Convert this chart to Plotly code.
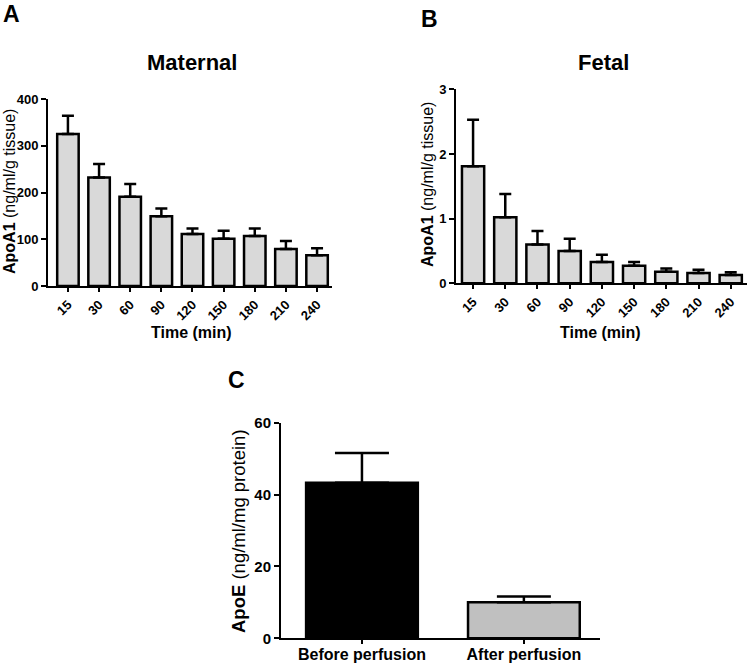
import plotly.graph_objects as go

W, H = 747, 665

time_labels = ["15", "30", "60", "90", "120", "150", "180", "210", "240"]
maternal_mean = [325, 232, 191, 149, 111, 101, 107, 79, 66]
maternal_sem = [39, 29, 27, 17, 12, 17, 16, 17, 15]
fetal_mean = [1.81, 1.02, 0.60, 0.50, 0.33, 0.27, 0.18, 0.16, 0.13]
fetal_sem = [0.72, 0.36, 0.21, 0.19, 0.11, 0.06, 0.05, 0.05, 0.04]
perf_labels = ["Before perfusion", "After perfusion"]
apoe_mean = [43.3, 10.0]
apoe_sem = [8.3, 1.6]

FONT = "Liberation Sans, Arial, sans-serif"

def px_x(p):
    return p / W

def px_y(p):
    return 1 - p / H

fig = go.Figure()

fig.add_trace(go.Bar(
    x=time_labels, y=maternal_mean, xaxis="x", yaxis="y",
    marker=dict(color="#d9d9d9", line=dict(color="black", width=2.5)),
    error_y=dict(type="data", array=maternal_sem, arrayminus=[0]*9, symmetric=False,
                 color="black", thickness=2.5, width=6),
    showlegend=False,
))
fig.add_trace(go.Bar(
    x=time_labels, y=fetal_mean, xaxis="x2", yaxis="y2",
    marker=dict(color="#d9d9d9", line=dict(color="black", width=2.5)),
    error_y=dict(type="data", array=fetal_sem, arrayminus=[0]*9, symmetric=False,
                 color="black", thickness=2.5, width=6),
    showlegend=False,
))
fig.add_trace(go.Bar(
    x=perf_labels, y=apoe_mean, xaxis="x3", yaxis="y3",
    marker=dict(color=["#000000", "#c0c0c0"], line=dict(color="black", width=2.5)),
    error_y=dict(type="data", array=apoe_sem, arrayminus=[0, 0], symmetric=False,
                 color="black", thickness=2.5, width=27),
    showlegend=False,
))

axis_common = dict(showline=True, linecolor="black", linewidth=2, ticks="outside",
                   tickcolor="black", tickwidth=2, showgrid=False, zeroline=False,
                   mirror=False, automargin=False)
tickfont = dict(family=FONT, size=13, color="black", weight="bold")

fig.update_layout(
    width=W, height=H, margin=dict(l=0, r=0, t=0, b=0, autoexpand=False),
    paper_bgcolor="white", plot_bgcolor="white",
    bargap=0.31,
    font=dict(family=FONT, color="black"),
    xaxis=dict(domain=[px_x(48), px_x(332)], anchor="y", range=[-0.64, 8.48],
               tickangle=-45, ticklen=4, tickfont=tickfont, **axis_common),
    yaxis=dict(domain=[px_y(286), px_y(99)], anchor="x", range=[0, 400],
               tickvals=[0, 100, 200, 300, 400], ticklen=5, tickfont=tickfont, **axis_common),
    xaxis2=dict(domain=[px_x(456), px_x(746.5)], anchor="y2", range=[-0.53, 8.49],
                tickangle=-45, ticklen=4, tickfont=tickfont, **axis_common),
    yaxis2=dict(domain=[px_y(283.3), px_y(89.3)], anchor="x2", range=[0, 3],
                tickvals=[0, 1, 2, 3], ticklen=5, tickfont=tickfont, **axis_common),
    xaxis3=dict(domain=[px_x(281), px_x(600)], anchor="y3", range=[-0.5, 1.47],
                ticklen=4, ticklabelstandoff=-4,
                tickfont=dict(family=FONT, size=16, color="black", weight="bold"),
                **axis_common),
    yaxis3=dict(domain=[px_y(638.3), px_y(422.7)], anchor="x3", range=[0, 60],
                tickvals=[0, 20, 40, 60], ticklen=5,
                tickfont=dict(family=FONT, size=15, color="black", weight="bold"), **axis_common),
)

def ann(text, x, y, size, angle=0, bold=True):
    fig.add_annotation(
        text=text, x=px_x(x), y=px_y(y), xref="paper", yref="paper",
        showarrow=False, textangle=angle, xanchor="center", yanchor="middle",
        font=dict(family=FONT, size=size, color="black",
                  weight="bold" if bold else "normal"),
    )

# panel letters
ann("A", 11, 14, 23)
ann("B", 429, 19, 23)
ann("C", 236, 380, 23)
# titles
ann("Maternal", 192, 63, 22)
ann("Fetal", 603, 63, 22)
# x titles
ann("Time (min)", 192, 332, 16)
ann("Time (min)", 600, 332, 16)
# y titles
ann("<b>ApoA1</b> (ng/ml/g tissue)", 9, 192, 16, angle=-90, bold=False)
ann("<b>ApoA1</b> (ng/ml/g tissue)", 427, 185, 16, angle=-90, bold=False)
ann("<b>ApoE</b> (ng/ml/mg protein)", 238, 531, 18.5, angle=-90, bold=False)

fig.write_html(
    "out.html",
    config={"displayModeBar": False},
    post_script="document.body.style.margin='0';document.body.style.overflow='hidden';",
)
